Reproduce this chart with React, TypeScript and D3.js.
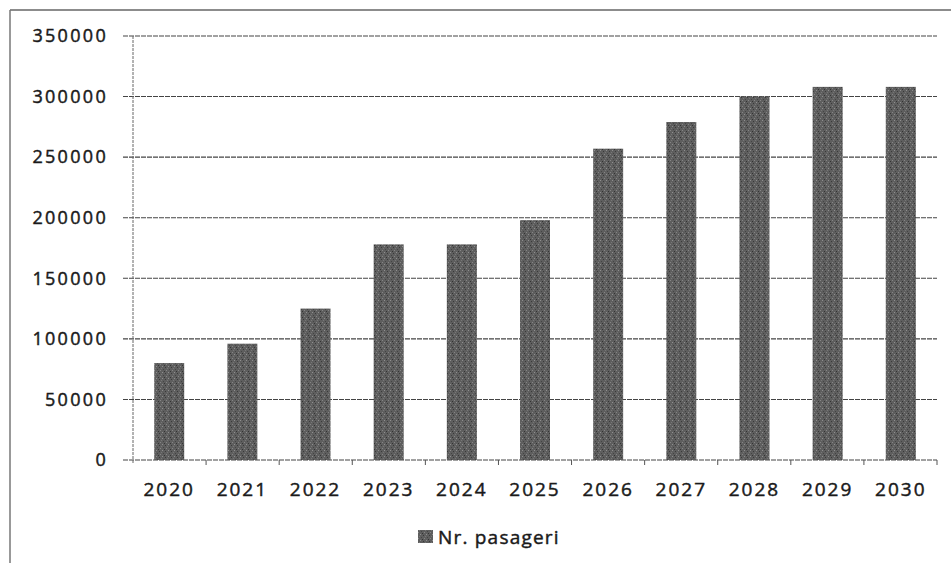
import React from "react";
import * as d3 from "d3";

const years = ["2020", "2021", "2022", "2023", "2024", "2025", "2026", "2027", "2028", "2029", "2030"];
const passengers = [80000, 96000, 125000, 178000, 178000, 198000, 257000, 279000, 300000, 308000, 308000];
const yTicks = [0, 50000, 100000, 150000, 200000, 250000, 300000, 350000];
const seriesName = "Nr. pasageri";

const W = 951;
const H = 563;
const left = 133;
const right = 937;
const top = 36;
const bottom = 460;

export default function App() {
  const x = d3.scaleBand<string>().domain(years).range([left, right]).paddingInner(0.59).paddingOuter(0.29);
  const y = d3.scaleLinear().domain([0, 350000]).range([bottom, top]);
  const step = (right - left) / years.length;
  const font = "'Open Sans', 'DejaVu Sans', sans-serif";
  const textStroke = { stroke: "#1a1a1a", strokeWidth: 0.45 };

  return (
    <div style={{ position: "absolute", left: 0, top: 0 }}>
      <svg width={W} height={H} style={{ display: "block", background: "#fff" }}>
        <defs>
          <pattern id="tex" width="6" height="6" patternUnits="userSpaceOnUse">
            <rect width="6" height="6" fill="#5e5e5e" />
            <rect x="0" y="0" width="1" height="1" fill="#8f8f8f" />
            <rect x="3" y="1" width="1" height="1" fill="#3a3a3a" />
            <rect x="1" y="3" width="1" height="1" fill="#444" />
            <rect x="4" y="4" width="1" height="1" fill="#858585" />
            <rect x="5" y="2" width="1" height="1" fill="#777" />
            <rect x="2" y="5" width="1" height="1" fill="#333" />
          </pattern>
        </defs>
        {/* outer frame */}
        <line x1={10} y1={10} x2={W} y2={10} stroke="#666" strokeWidth={1.5} />
        <line x1={10} y1={10} x2={10} y2={H} stroke="#777" strokeWidth={1.5} />

        {/* gridlines and y labels */}
        {yTicks.map((t) => (
          <g key={t}>
            <line x1={left - 10} x2={right} y1={y(t)} y2={y(t)} stroke="#444" strokeWidth={1.1} strokeDasharray="5,1" />
            <text
              x={108}
              y={y(t)}
              dy="0.35em"
              textAnchor="end"
              fontFamily={font}
              fontSize={18}
              letterSpacing={2.3}
              fill="#1a1a1a"
              {...textStroke}
            >
              {t}
            </text>
          </g>
        ))}
        {/* y axis */}
        <line x1={left} x2={left} y1={top} y2={bottom + 4} stroke="#666" strokeWidth={1} strokeDasharray="3,1" />

        {/* x ticks */}
        {years.map((_, i) => (
          <line
            key={"t" + i}
            x1={left + step * (i + 1)}
            x2={left + step * (i + 1)}
            y1={bottom}
            y2={bottom + 5}
            stroke="#555"
            strokeWidth={1}
          />
        ))}

        {/* bars */}
        {years.map((yr, i) => (
          <rect
            key={yr}
            x={x(yr)}
            y={y(passengers[i])}
            width={x.bandwidth()}
            height={bottom - y(passengers[i])}
            fill="url(#tex)"
          />
        ))}

        {/* x labels */}
        {years.map((yr) => (
          <text
            key={"l" + yr}
            x={(x(yr) as number) + x.bandwidth() / 2}
            y={489}
            dy="0.35em"
            textAnchor="middle"
            fontFamily={font}
            fontSize={19}
            letterSpacing={2}
            fill="#1a1a1a"
            {...textStroke}
          >
            {yr}
          </text>
        ))}

        {/* legend */}
        <rect x={418} y={530} width={15} height={13} fill="url(#tex)" />
        <text x={438} y={537} dy="0.35em" fontFamily={font} fontSize={19} letterSpacing={1.2} fill="#1a1a1a" {...textStroke}>
          {seriesName}
        </text>
      </svg>
    </div>
  );
}
